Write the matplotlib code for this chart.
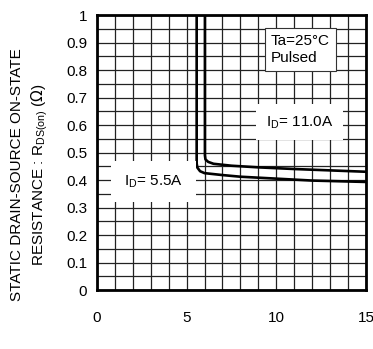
import numpy as np
import matplotlib.pyplot as plt

plt.rcParams['font.family'] = ['Liberation Sans', 'DejaVu Sans']

# gate-source voltage (V) vs static drain-source on-state resistance (ohm)
vgs_55 = [5.56, 5.56, 5.6, 5.75, 6.0, 7.0, 8.0, 10.0, 12.0, 15.0]
rds_55 = [1.05, 0.46, 0.445, 0.432, 0.425, 0.418, 0.412, 0.405, 0.398, 0.393]
vgs_11 = [6.02, 6.02, 6.05, 6.2, 6.5, 7.5, 9.0, 11.0, 13.0, 15.0]
rds_11 = [1.05, 0.49, 0.475, 0.466, 0.459, 0.452, 0.446, 0.44, 0.435, 0.43]

xticks = [0, 5, 10, 15]
yticks = [0, 0.1, 0.2, 0.3, 0.4, 0.5, 0.6, 0.7, 0.8, 0.9, 1]

fig = plt.figure(figsize=(3.73, 3.49), dpi=100)
ax = fig.add_axes([0.26, 0.169, 0.721, 0.788])

ax.set_xlim(0, 15)
ax.set_ylim(0, 1)
ax.set_xticks(xticks)
ax.set_xticklabels([str(v) for v in xticks])
ax.set_yticks(yticks)
ax.set_yticklabels(['0', '0.1', '0.2', '0.3', '0.4', '0.5', '0.6', '0.7', '0.8', '0.9', '1'])
ax.set_xticks(np.arange(0, 16, 1), minor=True)
ax.set_yticks(np.arange(0, 1.001, 0.05), minor=True)
ax.grid(which='both', color='#222222', lw=0.9)
ax.set_axisbelow(True)
ax.tick_params(which='both', length=0, labelsize=11)
ax.tick_params(axis='x', pad=15)
ax.tick_params(axis='y', pad=7)
for s in ax.spines.values():
    s.set_linewidth(2)

ax.plot(vgs_55, rds_55, color='black', lw=1.9, zorder=3)
ax.plot(vgs_11, rds_11, color='black', lw=1.9, zorder=3)

ax.text(9.7, 0.875, 'Ta=25°C\nPulsed', fontsize=11, ha='left', va='center',
        linespacing=1.25, zorder=4,
        bbox=dict(facecolor='white', edgecolor='#333333', lw=0.8, pad=4.5))
ax.text(11.3, 0.61, r'I$_\mathregular{D}$= 11.0A', fontsize=11, ha='center', va='center',
        zorder=4, bbox=dict(facecolor='white', edgecolor='none', pad=7))
ax.text(3.15, 0.395, r'I$_\mathregular{D}$= 5.5A', fontsize=11, ha='center', va='center',
        zorder=4, bbox=dict(facecolor='white', edgecolor='none', pad=9))

fig.text(30 / 373, 1 - 175 / 349,
         'STATIC DRAIN-SOURCE ON-STATE\n' + r'RESISTANCE : R$_\mathregular{DS(on)}$ ($\Omega$)',
         rotation=90, ha='center', va='center', fontsize=11, linespacing=1.35)

fig.savefig('out.png', dpi=100)
